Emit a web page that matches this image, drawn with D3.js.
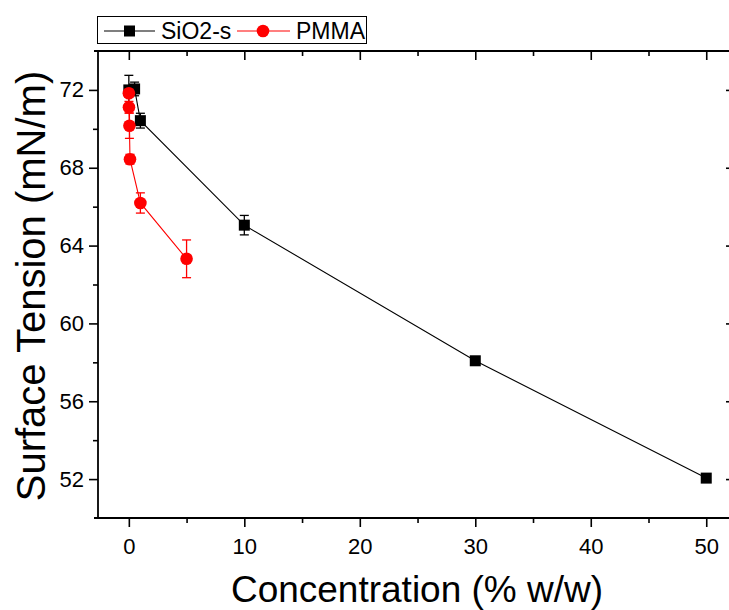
<!DOCTYPE html>
<html>
<head>
<meta charset="utf-8">
<script src="https://cdn.jsdelivr.net/npm/d3@7"></script>
<style>
  body { margin: 0; background: #fff; }
  svg text { font-family: "Liberation Sans", Arial, sans-serif; fill: #000; }
</style>
</head>
<body>
<svg id="chart" width="729" height="610"></svg>
<script>
// data
const sioConc = [0, 0.5, 1, 10, 30, 50];
const sioTension = [72.0, 72.05, 70.42, 65.05, 58.08, 52.05];
const sioErr = [0.75, 0.35, 0.38, 0.5, 0.15, 0.15];

const pmmaConc = [0.001, 0.01, 0.05, 0.1, 1, 5];
const pmmaTension = [71.83, 71.11, 70.16, 68.44, 66.19, 63.32];
const pmmaErr = [0.2, 0.3, 0.65, 0.25, 0.52, 0.97];

const xTicks = [0, 10, 20, 30, 40, 50];
const xMinor = [5, 15, 25, 35, 45];
const yTicks = [52, 56, 60, 64, 68, 72];
const yMinor = [54, 58, 62, 66, 70];

const svg = d3.select("#chart"),
      plotL = 98, plotR = 735, plotT = 51, plotB = 518;

const x = d3.scaleLinear().domain([-2.67, 52.49]).range([plotL, plotR]);
const y = d3.scaleLinear().domain([50, 74]).range([plotB, plotT]);

const sio = sioConc.map((c, i) => ({x: c, y: sioTension[i], e: sioErr[i]}));
const pmma = pmmaConc.map((c, i) => ({x: c, y: pmmaTension[i], e: pmmaErr[i]}));

// axes: left/bottom ticks out, top/right ticks in
function styleAxis(g) {
  g.select(".domain").remove();
  g.selectAll(".tick line").attr("stroke", "#000").attr("stroke-width", 1.6);
  g.selectAll(".tick text").style("font-size", "22px");
}

svg.append("g").attr("transform", `translate(0,${plotB})`)
  .call(d3.axisBottom(x).tickValues(xTicks).tickSize(9).tickPadding(11).tickFormat(d3.format("d")))
  .call(styleAxis);
svg.append("g").attr("transform", `translate(0,${plotB})`)
  .call(d3.axisBottom(x).tickValues(xMinor).tickSize(5).tickFormat(""))
  .call(styleAxis);
svg.append("g").attr("transform", `translate(0,${plotT})`)
  .call(d3.axisTop(x).tickValues(xTicks).tickSize(-9).tickFormat(""))
  .call(styleAxis);
svg.append("g").attr("transform", `translate(0,${plotT})`)
  .call(d3.axisTop(x).tickValues(xMinor).tickSize(-5).tickFormat(""))
  .call(styleAxis);

svg.append("g").attr("transform", `translate(${plotL},0)`)
  .call(d3.axisLeft(y).tickValues(yTicks).tickSize(9).tickPadding(5).tickFormat(d3.format("d")))
  .call(styleAxis);
svg.append("g").attr("transform", `translate(${plotL},0)`)
  .call(d3.axisLeft(y).tickValues(yMinor).tickSize(5).tickFormat(""))
  .call(styleAxis);
svg.append("g").attr("transform", `translate(${plotR},0)`)
  .call(d3.axisRight(y).tickValues(yTicks).tickSize(-9).tickFormat(""))
  .call(styleAxis);

// frame
svg.append("g").attr("stroke", "#000").attr("stroke-width", 1.8)
  .selectAll("line")
  .data([[plotL - 4, plotB, plotR, plotB], [plotL - 4, plotT, plotR, plotT],
         [plotL, plotT, plotL, plotB], [plotR, plotT, plotR, plotB]])
  .join("line")
    .attr("x1", d => d[0]).attr("y1", d => d[1])
    .attr("x2", d => d[2]).attr("y2", d => d[3]);

// axis titles
svg.append("text")
  .attr("x", 417).attr("y", 602)
  .attr("text-anchor", "middle")
  .style("font-size", "37px")
  .text("Concentration (% w/w)");

svg.append("text")
  .attr("transform", `translate(45,286) rotate(-90)`)
  .attr("text-anchor", "middle")
  .style("font-size", "40px")
  .text("Surface Tension (mN/m)");

const line = d3.line().x(d => x(d.x)).y(d => y(d.y));

function drawSeries(data, colour, marker) {
  const g = svg.append("g");
  g.append("path").datum(data)
    .attr("fill", "none").attr("stroke", colour).attr("stroke-width", 1.1)
    .attr("d", line);

  const eb = g.selectAll(".eb").data(data).join("g").attr("stroke", colour).attr("stroke-width", 1.3);
  eb.append("line")
    .attr("x1", d => x(d.x)).attr("x2", d => x(d.x))
    .attr("y1", d => y(d.y - d.e)).attr("y2", d => y(d.y + d.e));
  [-1, 1].forEach(s => {
    eb.append("line")
      .attr("x1", d => x(d.x) - 4.5).attr("x2", d => x(d.x) + 4.5)
      .attr("y1", d => y(d.y + s * d.e)).attr("y2", d => y(d.y + s * d.e));
  });

  if (marker === "square") {
    g.selectAll(".m").data(data).join("rect")
      .attr("x", d => x(d.x) - 5.5).attr("y", d => y(d.y) - 5.5)
      .attr("width", 11).attr("height", 11)
      .attr("fill", colour);
  } else {
    g.selectAll(".m").data(data).join("circle")
      .attr("cx", d => x(d.x)).attr("cy", d => y(d.y))
      .attr("r", 6.3)
      .attr("fill", colour);
  }
}

drawSeries(sio, "#000", "square");
drawSeries(pmma, "#ff0000", "circle");

// legend
const leg = svg.append("g");
leg.append("rect")
  .attr("x", 97.5).attr("y", 16.5).attr("width", 269).attr("height", 27)
  .attr("fill", "#fff").attr("stroke", "#000").attr("stroke-width", 1);
leg.append("line").attr("x1", 104).attr("x2", 155).attr("y1", 31).attr("y2", 31)
  .attr("stroke", "#000").attr("stroke-width", 1.1);
leg.append("rect").attr("x", 124).attr("y", 25.5).attr("width", 11).attr("height", 11).attr("fill", "#000");
leg.append("text").attr("x", 161).attr("y", 39).style("font-size", "23px").text("SiO2-s");
leg.append("line").attr("x1", 237).attr("x2", 290).attr("y1", 31).attr("y2", 31)
  .attr("stroke", "#ff0000").attr("stroke-width", 1.1);
leg.append("circle").attr("cx", 263).attr("cy", 31).attr("r", 6.3).attr("fill", "#ff0000");
leg.append("text").attr("x", 296).attr("y", 39).style("font-size", "23px").text("PMMA");
</script>
</body>
</html>
